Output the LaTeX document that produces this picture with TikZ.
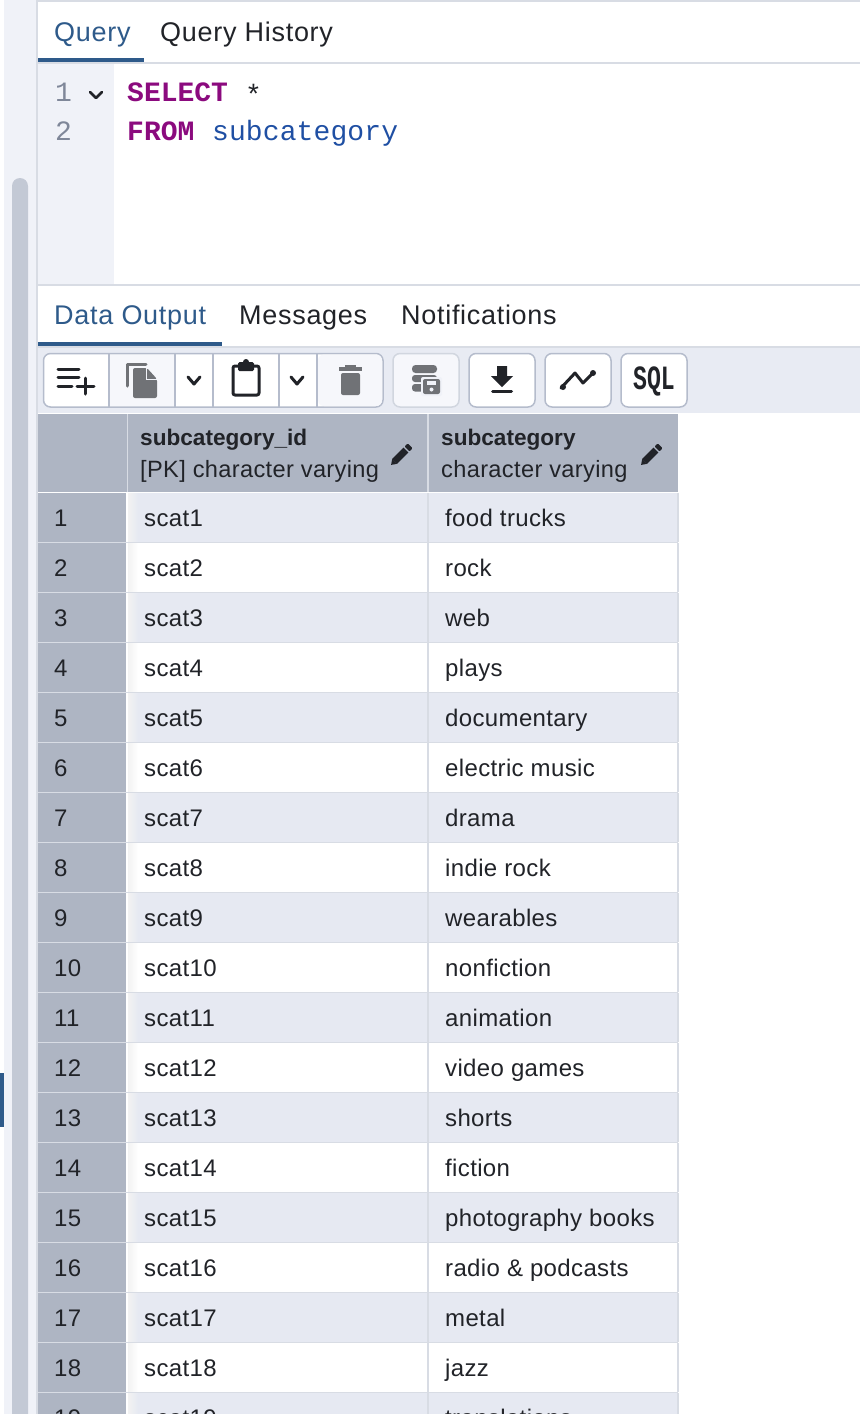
\documentclass[tikz,border=0pt]{standalone}
\usepackage{fontspec}
\setmainfont{Liberation Sans}[LetterSpace=1.5]
\setmonofont{Liberation Mono}
\definecolor{tabblue}{RGB}{46,90,138}
\definecolor{rule}{RGB}{216,220,228}
\definecolor{gutter}{RGB}{240,242,248}
\definecolor{bar}{RGB}{232,235,243}
\definecolor{head}{RGB}{174,181,195}
\definecolor{rowshade}{RGB}{230,233,242}
\definecolor{thumb}{RGB}{195,201,213}
\definecolor{keyword}{RGB}{139,10,126}
\definecolor{tablename}{RGB}{31,79,163}
\definecolor{lineno}{RGB}{127,135,153}
\definecolor{ink}{RGB}{33,35,40}
\definecolor{dimicon}{RGB}{112,114,118}
\definecolor{btnedge}{RGB}{181,188,204}

\begin{document}
\begin{tikzpicture}[
    x=1pt,
    y=-1pt,
    tab/.style={
        anchor=base west,inner sep=0,text=ink,font=\fontsize{27}{30}\selectfont\addfontfeature{LetterSpace=2.6}
    },
    seltab/.style={
        tab,text=tabblue
    },
    code/.style={
        anchor=base west,inner sep=0,font=\fontsize{28}{30}\ttfamily\addfontfeature{LetterSpace=0.4}
    },
    cell/.style={
        anchor=base west,inner sep=0,text=ink,font=\fontsize{24}{28}\selectfont
    },
    coltype/.style={
        cell,font=\fontsize{23.6}{28}\selectfont
    },
    colhead/.style={
        cell,font=\fontsize{22.6}{28}\selectfont\bfseries\addfontfeature{LetterSpace=0}
    },
    btn/.style={
        draw=btnedge,line width=1.5pt,rounded corners=7pt,fill=white
    },
    dimbtn/.style={
        btn,fill=gutter!60!white,draw=rule!80!btnedge
    },
    icon/.style={
        draw=ink,line width=3pt,line cap=round,line join=round
    }
]
    \useasboundingbox (0,0) rectangle (860,1414);
    \clip (0,0) rectangle (860,1414);

    % side strip and scroll bar
    \fill[gutter] (4,0) rectangle (37,1414);
    \fill[thumb,rounded corners=8pt] (12,178) rectangle (28,1440);
    \fill[tabblue] (0,1073) rectangle (4,1127);
    \fill[rule] (36,0) rectangle (38,1414);

    % query pane
    \fill[rule] (38,0) rectangle (860,2);
    \node[seltab] (query) at (54,41) {Query};
    \node[tab] (history) at (160,41) {Query History};
    \fill[rule] (38,62) rectangle (860,64);
    \fill[tabblue] (38,58) rectangle (144,62);
    \fill[gutter] (38,64) rectangle (114,284);
    \fill[rule] (38,284) rectangle (860,286);
    \node[code,text=lineno] (lineone) at (55,101) {1};
    \node[code,text=lineno] (linetwo) at (55,140) {2};
    \draw[icon,line width=2.5pt] (90,92) -- (96,98) -- (102,92);
    \node[code,text=keyword,font=\fontsize{28}{30}\ttfamily\bfseries] (select) at (127,101) {SELECT};
    \node[code,text=ink] (star) at (245,104) {*};
    \node[code,text=keyword,font=\fontsize{28}{30}\ttfamily\bfseries] (from) at (127,140) {FROM};
    \node[code,text=tablename] (subcat) at (212,140) {subcategory};

    % output tabs
    \node[seltab] (output) at (54,324) {Data Output};
    \node[tab] (messages) at (239,324) {Messages};
    \node[tab] (notes) at (401,324) {Notifications};
    \fill[tabblue] (38,342) rectangle (222,346);

    % toolbar
    \fill[bar] (38,346) rectangle (860,413);
    \fill[rule] (38,346) rectangle (860,348);
    \draw[btn] (43.5,353.5) rectangle (383,407);
    \fill[gutter!60!white] (110,354.5) rectangle (174,406);
    \fill[gutter!60!white,rounded corners=6pt] (318,354.5) rectangle (382,406);
    \foreach \sepx in {109,175,213,279,317}
        \fill[btnedge] (\sepx-0.8,354) rectangle (\sepx+0.8,406.5);
    \draw[dimbtn] (393,353.5) rectangle (459,407);
    \draw[btn] (469,353.5) rectangle (535,407);
    \draw[btn] (545,353.5) rectangle (611,407);
    \draw[btn] (621,353.5) rectangle (687,407);

    % add row
    \draw[icon] (58,369) -- (79,369) (58,377) -- (79,377) (58,386) -- (72,386);
    \draw[icon] (85,378) -- (85,394) (77,386) -- (94,386);
    % copy
    \draw[dimicon,line width=3pt,line cap=round,line join=round] (127.5,386) -- (127.5,364.5) -- (146,364.5);
    \fill[dimicon,rounded corners=2pt] (133,368) -- (147,368) -- (157,379) -- (157,398) -- (133,398) -- cycle;
    \draw[gutter,line width=1pt] (146,368) -- (146,379) -- (157,379);
    \draw[icon] (188,377) -- (194,384) -- (200,377);
    % paste
    \draw[icon,rounded corners=2pt] (233,366) rectangle (259,395);
    \fill[ink,rounded corners=1.5pt] (238,362) rectangle (254,371);
    \fill[ink] (246,362) circle (3pt);
    \draw[icon] (291,377) -- (297,384) -- (303,377);
    % delete
    \fill[dimicon,rounded corners=2pt] (341,373) rectangle (360,395);
    \fill[dimicon] (339,367) rectangle (362,371);
    \fill[dimicon] (345,365) rectangle (356,368);
    % save results
    \fill[dimicon,rounded corners=3.5pt] (412,365) rectangle (437,373);
    \fill[dimicon,rounded corners=3pt] (412,375) rectangle (437,382);
    \fill[dimicon,rounded corners=3pt] (412,384) rectangle (437,391.5);
    \fill[gutter,rounded corners=2pt] (421,377) rectangle (442,396);
    \fill[dimicon,rounded corners=2pt] (423,379) rectangle (440,394);
    \fill[gutter] (431.5,389.5) circle (2pt);
    \fill[gutter] (427,381) rectangle (436,384.5);
    % download
    \fill[ink] (497,366) -- (507,366) -- (507,376) -- (513,376) -- (502,387) -- (491,376) -- (497,376) -- cycle;
    \draw[icon] (492.5,391.5) -- (511.5,391.5);
    % graph
    \draw[icon] (561,388) -- (575,373) -- (583,383) -- (593,373);
    \foreach \dotx/\doty in {563/387,593/373}
        \fill[ink] (\dotx,\doty) circle (3pt);
    % explain
    \node[anchor=center,inner sep=0,text=ink,font=\fontsize{34}{36}\ttfamily\bfseries] (sql) at (654,381) {\scalebox{0.68}[1]{SQL}};

    % grid header
    \fill[head] (38,414) rectangle (678,492);
    \fill[rule] (126.5,414) rectangle (128,492);
    \fill[rule] (427,414) rectangle (429,492);
    \node[colhead] (idhead) at (140,445) {subcategory\_id};
    \node[coltype] (idtype) at (140,477) {[PK] character varying};
    \node[colhead] (namehead) at (441,445) {subcategory};
    \node[coltype] (nametype) at (441,477) {character varying};
    \foreach \penx in {401,651} {
        \begin{scope}[shift={(\penx,455)},rotate=45]
            \fill[ink] (-9,-3.5) rectangle (7,3.5);
            \fill[ink] (-9,-3.5) -- (-14,0) -- (-9,3.5) -- cycle;
            \fill[ink,rounded corners=1pt] (8.5,-3.5) rectangle (13,3.5);
        \end{scope}
    }

    % grid rows
    \foreach \n/\sub in {1/food trucks,2/rock,3/web,4/plays,5/documentary,6/electric music,
            7/drama,8/indie rock,9/wearables,10/nonfiction,11/animation,12/video games,
            13/shorts,14/fiction,15/photography books,16/radio \& podcasts,17/metal,18/jazz,
            19/translations} {
        \pgfmathsetmacro{\top}{493+50*(\n-1)}
        \pgfmathsetmacro{\base}{\top+33.5}
        \pgfmathsetmacro{\bot}{\top+49}
        \pgfmathsetmacro{\odd}{int(mod(\n,2))}
        \ifnum\odd=1 \colorlet{rowfill}{rowshade}\else \colorlet{rowfill}{white}\fi
        \fill[head] (38,\top) rectangle (126,\bot);
        \fill[rowfill] (128,\top) rectangle (678,\bot);
        \shade[left color=black!5,right color=rowfill] (128,\top) rectangle (138,\bot);
        \fill[rule] (38,\bot-0.5) rectangle (678,\bot+1);
        \fill[rule] (427,\top) rectangle (429,\bot);
        \fill[rule] (677,\top) rectangle (679,\bot);
        \node[cell] (num\n) at (54,\base) {\n};
        \node[cell] (id\n) at (144,\base) {scat\n};
        \node[cell] (name\n) at (445,\base) {\sub};
    }
\end{tikzpicture}
\end{document}
